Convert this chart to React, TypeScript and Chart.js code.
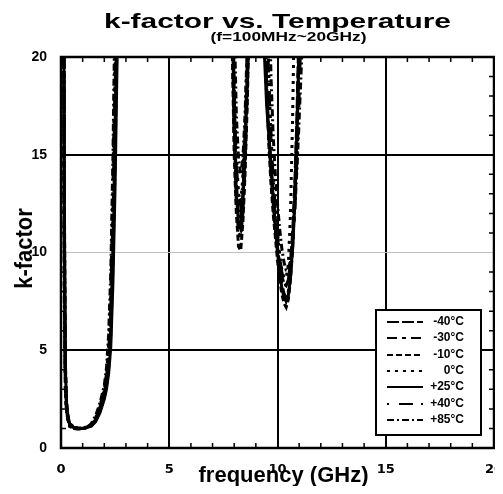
import React, { useEffect, useRef } from "react";
import { Chart, registerables } from "chart.js";

Chart.register(...registerables);

// Frequency grid (GHz), shared by all temperature series
const freqGHz = [
  0.1, 0.15, 0.2, 0.25, 0.3, 0.4, 0.6, 0.8, 1.0, 1.2,
  1.4, 1.6, 1.8, 2.0, 2.1, 2.2, 2.3, 2.4, 2.5, 2.6,
  2.7, 3.0, 5.0, 7.0, 7.7, 7.8, 7.9, 8.0, 8.1, 8.2,
  8.3, 8.4, 8.5, 8.6, 8.7, 8.8, 8.9, 9.1, 9.2, 9.3,
  9.4, 9.5, 9.6, 9.7, 9.8, 9.9, 10.0, 10.1, 10.2, 10.3,
  10.4, 10.5, 10.6, 10.7, 10.8, 10.9, 11.0, 11.1, 11.2, 11.3,
  11.5, 13, 16, 20,
];

// k-factor per temperature (values above 20 are off the chart)
const kM40 = [
  40, 12, 4.0, 2.3, 1.7, 1.2, 1.05, 1.0, 1.0, 1.05,
  1.15, 1.4, 1.9, 2.6, 3.2, 4.1, 5.8, 9.5, 15, 22,
  40, 40, 40, 40, 40, 40, 24, 17, 13.5, 12,
  11.8, 13, 15.5, 19, 24, 40, 40, 40, 40, 40,
  22, 18.5, 16, 14, 12.5, 11.2, 10.2, 9.4, 8.8, 8.4,
  8.3, 8.6, 9.5, 11, 13.5, 17, 22, 40, 40, 40,
  40, 40, 40, 40,
];
const kM30 = [
  40, 10, 3.5, 2.1, 1.6, 1.15, 1.02, 1.0, 1.0, 1.05,
  1.2, 1.5, 2.0, 2.8, 3.5, 4.6, 6.8, 11.5, 18, 27,
  40, 40, 40, 40, 40, 40, 22, 16, 12.5, 11,
  10.8, 12, 14.5, 18, 23, 40, 40, 40, 40, 40,
  21, 18, 16, 14.5, 13, 11.5, 10.3, 9.2, 8.4, 7.9,
  7.7, 8.0, 8.9, 10.5, 13, 16.5, 21, 40, 40, 40,
  40, 40, 40, 40,
];
const kM10 = [
  40, 14, 4.5, 2.5, 1.8, 1.25, 1.08, 1.02, 1.02, 1.08,
  1.2, 1.45, 1.95, 2.7, 3.3, 4.3, 6.2, 10.3, 16.5, 24,
  40, 40, 40, 40, 40, 40, 21, 15, 12, 10.3,
  10.1, 11.5, 14, 17.5, 22, 40, 40, 40, 40, 40,
  23, 18.5, 15.5, 13.5, 12, 10.8, 9.6, 8.6, 7.9, 7.4,
  7.2, 7.6, 8.6, 10.2, 12.5, 16, 20.5, 40, 40, 40,
  40, 40, 40, 40,
];
const k0 = [
  40, 9, 3.2, 2.0, 1.5, 1.1, 1.0, 0.98, 1.0, 1.06,
  1.2, 1.55, 2.15, 3.0, 3.8, 5.2, 8.0, 13.5, 21, 32,
  40, 40, 40, 40, 40, 40, 26, 18.5, 15, 13,
  12.6, 13.8, 16.5, 20.5, 40, 40, 40, 40, 40, 40,
  40, 24, 19, 16, 14, 12.4, 11, 9.9, 9.1, 8.7,
  8.7, 9.4, 12, 17, 24, 40, 40, 40, 40, 40,
  40, 40, 40, 40,
];
const kP25 = [
  40, 13, 4.2, 2.4, 1.75, 1.2, 1.05, 1.0, 1.0, 1.04,
  1.12, 1.35, 1.8, 2.5, 3.0, 3.8, 5.2, 8.5, 13.5, 20.5,
  40, 40, 40, 40, 40, 40, 23, 16.5, 13, 11.5,
  11.2, 12.5, 15, 18.5, 23, 40, 40, 40, 40, 30,
  20, 17.5, 16, 14.5, 12.8, 11.3, 10, 9, 8.2, 7.7,
  7.5, 7.8, 8.7, 10.3, 12.8, 16.2, 20.8, 40, 40, 40,
  40, 40, 40, 40,
];
const kP40 = [
  40, 11, 3.8, 2.2, 1.65, 1.18, 1.03, 1.0, 1.01, 1.07,
  1.22, 1.55, 2.1, 2.9, 3.6, 4.8, 7.2, 12, 19, 29,
  40, 40, 40, 40, 40, 40, 25, 18, 14.5, 12.8,
  12.4, 13.5, 16, 19.5, 25, 40, 40, 40, 40, 40,
  40, 23, 18.5, 15.8, 13.8, 12.2, 10.9, 9.8, 9.0, 8.5,
  8.3, 8.5, 9.2, 10.5, 12.3, 14.8, 18, 22, 40, 40,
  40, 40, 40, 40,
];
const kP85 = [
  40, 8, 3.0, 1.9, 1.55, 1.12, 1.0, 0.97, 0.98, 1.05,
  1.25, 1.65, 2.3, 3.2, 4.1, 5.8, 9.0, 15, 23, 40,
  40, 40, 40, 40, 40, 40, 40, 22, 17, 14.8,
  14, 14.8, 17, 20.5, 27, 40, 40, 40, 40, 40,
  40, 40, 24, 19, 16, 14, 12.5, 11.2, 10.2, 9.5,
  9.1, 9.1, 9.6, 10.6, 12.2, 14.3, 16.8, 19.5, 23, 40,
  40, 40, 40, 40,
];

const seriesLabels = ["-40°C", "-30°C", "-10°C", "0°C", "+25°C", "+40°C", "+85°C"];
const seriesValues = [kM40, kM30, kM10, k0, kP25, kP40, kP85];
const seriesDashes = [[12, 3], [10, 5, 4, 5], [6, 3], [3, 5], [], [2, 10, 14, 8], [7, 3, 2, 3]];

const xTickValues = [0, 5, 10, 15, 20];
const yTickValues = [0, 5, 10, 15, 20];
const minorTickValues = [1, 2, 3, 4, 6, 7, 8, 9, 11, 12, 13, 14, 16, 17, 18, 19];

const chartTitle = "k-factor vs. Temperature";
const chartSubtitle = "(f=100MHz~20GHz)";
const xTitle = "frequency (GHz)";
const yTitle = "k-factor";

const FONT = '"Liberation Sans", Arial, sans-serif';

function drawStretched(ctx: CanvasRenderingContext2D, text: string, cx: number, baseline: number, font: string, targetW: number) {
  ctx.save();
  ctx.font = font;
  const w = ctx.measureText(text).width;
  ctx.translate(cx, baseline);
  ctx.scale(targetW / w, 1);
  ctx.textAlign = "center";
  ctx.textBaseline = "alphabetic";
  ctx.fillStyle = "#000";
  ctx.fillText(text, 0, 0);
  ctx.restore();
}

const decoPlugin = {
  id: "deco",
  afterDatasetsDraw(chart: any) {
    const { ctx, chartArea: a, scales } = chart;
    const xs = scales.x;
    const ys = scales.y;
    ctx.save();
    // minor ticks (inside)
    ctx.strokeStyle = "#000";
    ctx.lineWidth = 1.5;
    ctx.beginPath();
    for (const v of minorTickValues) {
      const px = xs.getPixelForValue(v);
      ctx.moveTo(px, a.bottom);
      ctx.lineTo(px, a.bottom - 5);
      ctx.moveTo(px, a.top);
      ctx.lineTo(px, a.top + 5);
      const py = ys.getPixelForValue(v);
      ctx.moveTo(a.left, py);
      ctx.lineTo(a.left + 5, py);
      ctx.moveTo(a.right, py);
      ctx.lineTo(a.right - 5, py);
    }
    ctx.stroke();
    // frame
    ctx.lineWidth = 2.5;
    ctx.strokeRect(a.left, a.top, a.right - a.left, a.bottom - a.top);

    // legend box
    const lx = a.right - 118;
    const ly = a.top + 253;
    const lw = 105;
    const lh = 125;
    ctx.fillStyle = "#fff";
    ctx.fillRect(lx, ly, lw, lh);
    ctx.lineWidth = 2;
    ctx.strokeStyle = "#000";
    ctx.strokeRect(lx, ly, lw, lh);
    chart.data.datasets.forEach((ds: any, i: number) => {
      const ry = Math.round(ly + 12 + i * 16.3);
      ctx.setLineDash(ds.borderDash || []);
      ctx.lineWidth = 2;
      ctx.beginPath();
      ctx.moveTo(lx + 11, ry);
      ctx.lineTo(lx + 47, ry);
      ctx.stroke();
      ctx.setLineDash([]);
      ctx.font = `bold 12px ${FONT}`;
      ctx.textAlign = "right";
      ctx.textBaseline = "middle";
      ctx.fillStyle = "#000";
      ctx.fillText(ds.label, lx + 88, ry);
    });

    // titles
    const cx = (a.left + a.right) / 2;
    drawStretched(ctx, chartTitle, cx, 19.5, `bold 21px ${FONT}`, 347);
    drawStretched(ctx, chartSubtitle, cx + 11, 33.3, `bold 12px ${FONT}`, 156);
    ctx.font = `bold 22px ${FONT}`;
    ctx.textAlign = "center";
    ctx.textBaseline = "alphabetic";
    ctx.fillStyle = "#000";
    ctx.fillText(xTitle, cx + 6, 474);
    // y title (rotated)
    ctx.save();
    ctx.translate(24, (a.top + a.bottom) / 2 - 4);
    ctx.rotate(-Math.PI / 2);
    ctx.scale(1, 1.12);
    ctx.font = `bold 22px ${FONT}`;
    ctx.textAlign = "center";
    ctx.textBaseline = "alphabetic";
    ctx.fillText(yTitle, 0, 0);
    ctx.restore();

    ctx.restore();
  },
};

export default function App() {
  const ref = useRef<HTMLCanvasElement | null>(null);
  useEffect(() => {
    if (!ref.current) return;
    const datasets = seriesLabels.map((label, i) => ({
      label,
      data: freqGHz.map((f, j) => ({ x: f, y: seriesValues[i][j] })),
      borderColor: "#000",
      backgroundColor: "#000",
      borderWidth: 3,
      borderDash: seriesDashes[i],
      pointRadius: 0,
      tension: 0,
      fill: false,
    }));
    const chart = new Chart(ref.current, {
      type: "line",
      data: { datasets },
      options: {
        responsive: false,
        animation: false,
        layout: { padding: { left: 0, top: 49, right: 9, bottom: 0 } },
        plugins: { legend: { display: false }, title: { display: false }, tooltip: { enabled: false } },
        scales: {
          x: {
            type: "linear",
            min: 0,
            max: 20,
            afterBuildTicks: (s: any) => {
              s.ticks = xTickValues.map((v) => ({ value: v }));
            },
            afterFit: (s: any) => {
              s.height = 38;
              s.paddingLeft = 0;
              s.paddingRight = 0;
            },
            ticks: {
              color: "#000",
              font: { family: '"DejaVu Sans"', size: 13, weight: "bold" },
              padding: 14,
              maxRotation: 0,
            },
            grid: {
              drawTicks: false,
              color: (c: any) => (c.tick && c.tick.value > 0 && c.tick.value < 20 ? "#000" : "rgba(0,0,0,0)"),
              lineWidth: 2,
            },
            border: { display: false },
          },
          y: {
            type: "linear",
            min: 0,
            max: 20,
            afterBuildTicks: (s: any) => {
              s.ticks = yTickValues.map((v) => ({ value: v }));
            },
            afterFit: (s: any) => {
              s.width = 53;
              s.paddingTop = 0;
              s.paddingBottom = 0;
            },
            ticks: {
              color: "#000",
              font: { family: FONT, size: 14, weight: "bold" },
              padding: 14,
            },
            grid: {
              drawTicks: false,
              color: (c: any) => {
                const v = c.tick ? c.tick.value : -1;
                if (v === 10) return "#c0c0c0";
                if (v === 5 || v === 15) return "#000";
                return "rgba(0,0,0,0)";
              },
              lineWidth: (c: any) => (c.tick && c.tick.value === 10 ? 1 : 2),
            },
            border: { display: false },
          },
        },
      },
      plugins: [decoPlugin],
    });
    return () => chart.destroy();
  }, []);
  return (
    <div style={{ width: 495, height: 478 }}>
      <canvas ref={ref} width={495} height={478} style={{ display: "block", width: 495, height: 478 }} />
    </div>
  );
}
